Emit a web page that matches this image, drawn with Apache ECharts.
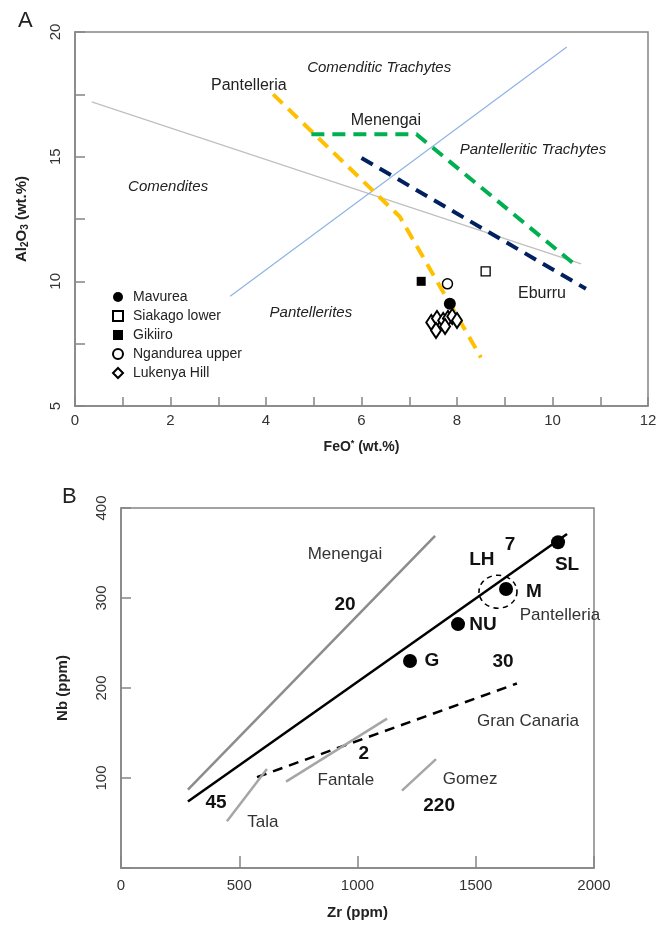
<!DOCTYPE html>
<html>
<head>
<meta charset="utf-8">
<script src="https://cdn.jsdelivr.net/npm/echarts@6/dist/echarts.min.js"></script>
<style>
  html, body { margin: 0; padding: 0; background: #fff; }
  #chart { width: 667px; height: 928px; }
</style>
</head>
<body>
<div id="chart"></div>
<script>
// ---- panel A : Al2O3 vs FeO* ----
var grayDivider = [[0.35, 17.2], [10.6, 10.7]];
var blueDivider = [[3.25, 9.4], [10.3, 19.4]];
var pantelleriaTrend = [[4.15, 17.5], [6.8, 12.6], [8.5, 6.95]];
var menengaiTrend = [[4.95, 15.9], [7.15, 15.9], [10.45, 10.7]];
var eburruTrend = [[6.0, 14.95], [10.7, 9.7]];

var mavurea = [[7.85, 9.1]];
var siakagoLower = [[8.6, 10.4]];
var gikiiro = [[7.25, 10.0]];
var ngandureaUpper = [[7.8, 9.9]];
var lukenyaHill = [[7.46, 8.35], [7.58, 8.51], [7.71, 8.43], [7.81, 8.51], [7.9, 8.59], [8.0, 8.43], [7.56, 8.03], [7.75, 8.19]];

var legendA = ['Mavurea', 'Siakago lower', 'Gikiiro', 'Ngandurea upper', 'Lukenya Hill'];

// label text, FeO*, Al2O3
var fieldNamesA = [
  ['Comenditic Trachytes', 6.37, 18.56],
  ['Pantelleritic Trachytes', 9.59, 15.27],
  ['Comendites', 1.95, 13.78],
  ['Pantellerites', 4.94, 8.73]
];
var trendNamesA = [
  ['Pantelleria', 3.64, 17.87],
  ['Menengai', 6.51, 16.43],
  ['Eburru', 9.78, 9.49]
];

// ---- panel B : Nb vs Zr ----
var menengaiLine = [[283, 87], [1328, 369]];
var kenyaLine = [[283, 74], [1886, 371]];
var granCanariaLine = [[575, 101], [1674, 205]];
var talaLine = [[448, 52], [617, 110]];
var fantaleLine = [[698, 96], [1125, 166]];
var gomezLine = [[1188, 86], [1332, 121]];

var samplesB = [[1848, 362], [1628, 310], [1425, 271], [1222, 230]];
var lhRing = [[1594, 307]];

var plainNamesB = [
  ['Menengai', 947, 349],
  ['Pantelleria', 1856, 281],
  ['Gran Canaria', 1721, 163],
  ['Fantale', 951, 97],
  ['Gomez', 1476, 99],
  ['Tala', 600, 51]
];
var boldNamesB = [
  ['20', 947, 293],
  ['LH', 1526, 342],
  ['7', 1645, 359],
  ['SL', 1886, 337],
  ['M', 1746, 307],
  ['NU', 1531, 270],
  ['G', 1315, 230],
  ['30', 1615, 229],
  ['2', 1027, 127],
  ['220', 1345, 69],
  ['45', 402, 72]
];

var FONT = 'Liberation Sans, Arial, sans-serif';
var AXIS_GREY = '#858585';

var lineSeries = function (name, data, idx, color, width, dash) {
  return {
    type: 'line', name: name, data: data,
    xAxisIndex: idx, yAxisIndex: idx,
    showSymbol: false, symbol: 'none', silent: true,
    lineStyle: { color: color, width: width, type: dash || 'solid', cap: 'butt', join: 'miter' },
    z: 2
  };
};

var textSeries = function (name, list, idx, style) {
  return {
    type: 'scatter', name: name, xAxisIndex: idx, yAxisIndex: idx,
    symbolSize: 0, silent: true, z: 6,
    itemStyle: { opacity: 1 },
    data: list.map(function (t) { return { name: t[0], value: [t[1], t[2]] }; }),
    label: Object.assign({ show: true, position: 'inside', formatter: '{b}', color: '#222', fontFamily: FONT }, style)
  };
};

var pointSeries = function (name, data, symbol, size, fill, border) {
  return {
    type: 'scatter', name: name, data: data, xAxisIndex: 0, yAxisIndex: 0,
    symbol: symbol, symbolSize: size, z: 5, silent: true,
    itemStyle: { color: fill, borderColor: '#000', borderWidth: border, opacity: 1 }
  };
};

var valueAxis = function (idx, min, max, interval, opts) {
  var ax = {
    type: 'value', gridIndex: idx, min: min, max: max, interval: interval,
    splitLine: { show: false },
    axisLine: { show: true, lineStyle: { color: AXIS_GREY, width: 1.5 } },
    axisTick: { show: true, inside: true, length: 10, lineStyle: { color: AXIS_GREY, width: 1.5 } },
    axisLabel: { color: '#333', fontSize: 15, fontFamily: FONT },
    nameLocation: 'middle',
    nameTextStyle: { color: '#222', fontSize: 14, fontWeight: 'bold', fontFamily: FONT }
  };
  return Object.assign(ax, opts);
};

var chart = echarts.init(document.getElementById('chart'), null, { renderer: 'canvas' });

chart.setOption({
  animation: false,
  backgroundColor: '#fff',
  title: [
    { text: 'A', left: 13, top: 5, textStyle: { fontSize: 22, fontWeight: 'normal', color: '#222', fontFamily: FONT } },
    { text: 'B', left: 57, top: 481, textStyle: { fontSize: 22, fontWeight: 'normal', color: '#222', fontFamily: FONT } }
  ],
  grid: [
    { left: 75, top: 32, width: 573, height: 374, show: true, borderColor: AXIS_GREY, borderWidth: 1.5 },
    { left: 121, top: 508, width: 473, height: 360, show: true, borderColor: AXIS_GREY, borderWidth: 1.5 }
  ],
  xAxis: [
    valueAxis(0, 0, 12, 1, {
      name: 'FeO{sup|*} (wt.%)', nameGap: 33,
      nameTextStyle: { color: '#222', fontSize: 14, fontWeight: 'bold', fontFamily: FONT,
        rich: { sup: { fontSize: 9, fontWeight: 'bold', verticalAlign: 'top', padding: [0, 0, 8, 0] } } },
      axisTick: { show: true, inside: true, length: 9, lineStyle: { color: AXIS_GREY, width: 1.5 } },
      axisLabel: { color: '#333', fontSize: 15, fontFamily: FONT, margin: 7,
        formatter: function (v) { return v % 2 === 0 ? String(v) : ''; } }
    }),
    valueAxis(1, 0, 2000, 500, {
      name: 'Zr (ppm)', nameGap: 37,
      nameTextStyle: { color: '#222', fontSize: 15, fontWeight: 'bold', fontFamily: FONT },
      axisTick: { show: true, inside: true, length: 12, lineStyle: { color: AXIS_GREY, width: 1.5 } },
      axisLabel: { color: '#333', fontSize: 15, fontFamily: FONT, margin: 10,
        formatter: function (v) { return String(v); } }
    })
  ],
  yAxis: [
    valueAxis(0, 5, 20, 2.5, {
      name: 'Al{sub|2}O{sub|3} (wt.%)', nameGap: 45,
      nameTextStyle: { color: '#222', fontSize: 15, fontWeight: 'bold', fontFamily: FONT,
        rich: { sub: { fontSize: 10, fontWeight: 'bold', verticalAlign: 'bottom', padding: [6, 0, 0, 0] } } },
      axisLabel: { color: '#333', fontSize: 15, fontFamily: FONT, rotate: 90, margin: 12,
        formatter: function (v) { return v % 5 === 0 ? String(v) : ''; } }
    }),
    valueAxis(1, 0, 400, 100, {
      name: 'Nb (ppm)', nameGap: 51,
      nameTextStyle: { color: '#222', fontSize: 15, fontWeight: 'bold', fontFamily: FONT },
      axisLabel: { color: '#333', fontSize: 15, fontFamily: FONT, rotate: 90, margin: 12,
        formatter: function (v) { return v === 0 ? '' : String(v); } }
    })
  ],
  legend: {
    data: legendA, orient: 'vertical', left: 107, top: 285,
    itemWidth: 10, itemHeight: 10, itemGap: 5,
    textStyle: { color: '#222', fontSize: 14, fontFamily: FONT, padding: [0, 0, 0, 5] },
    selectedMode: false
  },
  series: [
    // panel A lines
    lineSeries('divider grey', grayDivider, 0, '#bfbfbf', 1.2),
    lineSeries('divider blue', blueDivider, 0, '#8eb4e3', 1.2),
    lineSeries('Pantelleria trend', pantelleriaTrend, 0, '#ffc000', 4, [13, 8]),
    lineSeries('Menengai trend', menengaiTrend, 0, '#00b050', 4, [13, 8]),
    lineSeries('Eburru trend', eburruTrend, 0, '#002060', 4, [13, 8]),
    // panel A samples
    pointSeries('Mavurea', mavurea, 'circle', 12, '#000', 0),
    pointSeries('Siakago lower', siakagoLower, 'rect', 9, '#fff', 1.3),
    pointSeries('Gikiiro', gikiiro, 'rect', 9, '#000', 0),
    pointSeries('Ngandurea upper', ngandureaUpper, 'circle', 10, '#fff', 1.5),
    pointSeries('Lukenya Hill', lukenyaHill, 'diamond', [10, 15], '#fff', 2),
    textSeries('fields A', fieldNamesA, 0, { fontSize: 15, fontStyle: 'italic' }),
    textSeries('trends A', trendNamesA, 0, { fontSize: 16 }),
    // panel B lines
    lineSeries('Menengai', menengaiLine, 1, '#8c8c8c', 2.5),
    lineSeries('Kenya', kenyaLine, 1, '#000', 2.5),
    lineSeries('Gran Canaria', granCanariaLine, 1, '#000', 2.5, [10, 7]),
    lineSeries('Tala', talaLine, 1, '#a6a6a6', 2.5),
    lineSeries('Fantale', fantaleLine, 1, '#a6a6a6', 2.5),
    lineSeries('Gomez', gomezLine, 1, '#a6a6a6', 2.5),
    {
      type: 'scatter', name: 'samples B', data: samplesB, xAxisIndex: 1, yAxisIndex: 1,
      symbol: 'circle', symbolSize: 14, itemStyle: { color: '#000', opacity: 1 }, z: 5, silent: true
    },
    {
      type: 'scatter', name: 'LH ring', data: lhRing, xAxisIndex: 1, yAxisIndex: 1,
      symbol: 'circle', symbolSize: [38, 33], silent: true, z: 4,
      itemStyle: { color: 'rgba(0,0,0,0)', borderColor: '#000', borderWidth: 1.5, borderType: [5, 4], opacity: 1 }
    },
    textSeries('names B', plainNamesB, 1, { fontSize: 17, color: '#333' }),
    textSeries('numbers B', boldNamesB, 1, { fontSize: 19, fontWeight: 'bold', color: '#111' })
  ]
});
</script>
</body>
</html>
